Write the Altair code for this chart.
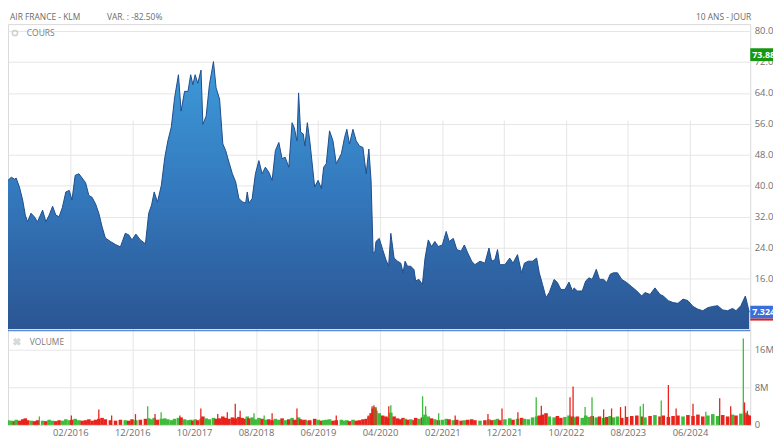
import altair as alt
import pandas as pd

# ---------------- data ----------------
dates = [
    "2015-04-01", "2015-04-17", "2015-05-03", "2015-05-11", "2015-05-27", "2015-06-12", "2015-06-25", "2015-07-06",
    "2015-07-23", "2015-08-08", "2015-08-24", "2015-09-18", "2015-10-04", "2015-10-20", "2015-11-06", "2015-11-22",
    "2015-12-08", "2015-12-24", "2016-01-10", "2016-01-27", "2016-02-09", "2016-02-25", "2016-03-14", "2016-03-30",
    "2016-04-16", "2016-05-02", "2016-05-18", "2016-06-04", "2016-06-20", "2016-07-06", "2016-07-22", "2016-08-16",
    "2016-09-10", "2016-10-04", "2016-10-28", "2016-11-14", "2016-11-30", "2016-12-19", "2017-01-10", "2017-02-04",
    "2017-02-20", "2017-03-06", "2017-03-19", "2017-04-04", "2017-04-23", "2017-05-10", "2017-05-25", "2017-06-11",
    "2017-06-27", "2017-07-16", "2017-07-29", "2017-08-15", "2017-09-01", "2017-09-14", "2017-09-25", "2017-10-06",
    "2017-10-19", "2017-11-04", "2017-11-13", "2017-11-29", "2017-12-15", "2018-01-04", "2018-01-17", "2018-02-03",
    "2018-02-19", "2018-03-05", "2018-03-21", "2018-04-07", "2018-04-23", "2018-05-09", "2018-05-25", "2018-06-11",
    "2018-06-19", "2018-06-27", "2018-07-13", "2018-07-29", "2018-08-15", "2018-08-31", "2018-09-16", "2018-10-03",
    "2018-10-19", "2018-11-04", "2018-11-21", "2018-12-07", "2018-12-22", "2019-01-09", "2019-01-25", "2019-02-05",
    "2019-02-18", "2019-02-26", "2019-03-08", "2019-03-21", "2019-03-29", "2019-04-10", "2019-04-22", "2019-05-16",
    "2019-06-02", "2019-06-18", "2019-06-29", "2019-07-12", "2019-07-28", "2019-08-14", "2019-08-30", "2019-09-24",
    "2019-10-10", "2019-10-21", "2019-11-03", "2019-11-20", "2019-12-06", "2019-12-22", "2020-01-08", "2020-01-24",
    "2020-02-06", "2020-02-17", "2020-02-27", "2020-03-07", "2020-03-12", "2020-03-28", "2020-04-14", "2020-04-30",
    "2020-05-13", "2020-05-24", "2020-06-09", "2020-06-26", "2020-07-12", "2020-07-23", "2020-08-02", "2020-08-14",
    "2020-08-30", "2020-09-15", "2020-09-23", "2020-10-09", "2020-10-26", "2020-11-08", "2020-11-24", "2020-12-10",
    "2020-12-26", "2021-01-12", "2021-02-01", "2021-02-20", "2021-03-06", "2021-03-27", "2021-04-13", "2021-05-04",
    "2021-05-20", "2021-06-06", "2021-06-25", "2021-07-11", "2021-08-05", "2021-08-29", "2021-09-18", "2021-10-01",
    "2021-10-17", "2021-10-30", "2021-11-10", "2021-12-05", "2021-12-29", "2022-01-14", "2022-02-05", "2022-02-25",
    "2022-03-11", "2022-03-30", "2022-04-20", "2022-05-10", "2022-05-23", "2022-06-08", "2022-06-25", "2022-07-11",
    "2022-08-04", "2022-08-20", "2022-09-06", "2022-09-26", "2022-10-16", "2022-11-02", "2022-11-10", "2022-11-26",
    "2022-12-20", "2023-01-06", "2023-01-22", "2023-02-07", "2023-02-27", "2023-03-15", "2023-04-04", "2023-04-20",
    "2023-05-06", "2023-05-22", "2023-06-11", "2023-07-02", "2023-07-26", "2023-08-20", "2023-09-14", "2023-10-08",
    "2023-10-24", "2023-11-18", "2023-12-12", "2024-01-06", "2024-01-22", "2024-02-16", "2024-03-10", "2024-04-03",
    "2024-04-28", "2024-05-22", "2024-06-16", "2024-07-10", "2024-08-03", "2024-08-28", "2024-09-21", "2024-10-15",
    "2024-11-09", "2024-12-03", "2024-12-27", "2025-01-13", "2025-02-06", "2025-02-28", "2025-03-10", "2025-03-19",
]
prices = [
    41.4, 42.2, 41.7, 42.0, 39.7, 36.3, 32.4, 30.7, 32.9, 32.0, 30.7, 33.7, 30.7, 32.4, 34.7, 32.4,
    32.0, 34.4, 38.4, 38.8, 36.3, 42.7, 43.1, 42.0, 40.8, 37.5, 37.0, 35.3, 32.9, 29.4, 26.5, 25.6,
    24.8, 24.2, 27.7, 27.3, 26.0, 27.5, 26.0, 25.0, 32.9, 35.0, 38.4, 35.8, 40.1, 47.3, 51.6, 55.2,
    62.7, 68.7, 59.3, 64.4, 64.4, 68.7, 66.1, 68.7, 66.5, 69.9, 55.9, 58.0, 66.1, 72.1, 65.3, 62.4,
    50.8, 49.1, 46.1, 43.1, 41.0, 36.7, 35.9, 35.5, 38.4, 35.5, 36.7, 43.1, 46.5, 43.1, 44.8, 43.5,
    41.4, 49.1, 51.2, 47.0, 47.4, 44.8, 56.3, 55.0, 51.6, 64.0, 53.9, 53.4, 50.3, 56.3, 51.6, 39.7,
    41.4, 39.3, 44.8, 45.7, 54.2, 51.6, 45.7, 48.3, 52.5, 54.6, 50.8, 54.6, 51.6, 50.3, 49.9, 43.1,
    49.5, 41.4, 22.6, 23.0, 25.6, 26.4, 23.5, 20.9, 19.2, 27.7, 21.3, 20.5, 20.0, 17.5, 20.5, 19.2,
    19.2, 18.3, 15.4, 15.8, 14.5, 21.3, 26.0, 24.3, 25.6, 24.3, 24.7, 28.2, 25.6, 26.4, 23.5, 23.1,
    24.7, 22.6, 20.5, 19.6, 20.5, 20.0, 23.9, 20.5, 20.9, 23.5, 19.6, 19.6, 21.3, 20.0, 22.2, 17.5,
    20.0, 20.5, 20.5, 21.3, 17.5, 14.5, 11.1, 12.4, 15.8, 15.0, 13.2, 13.2, 15.1, 12.8, 13.6, 12.8,
    12.8, 15.4, 16.2, 15.8, 18.4, 15.8, 15.8, 15.0, 17.1, 17.5, 17.5, 15.8, 15.0, 13.9, 12.8, 11.5,
    12.4, 11.9, 13.6, 11.9, 11.5, 10.3, 9.8, 9.6, 10.7, 10.3, 8.8, 8.1, 7.7, 8.5, 8.8, 9.0,
    7.9, 7.7, 8.3, 7.7, 9.0, 11.5, 9.4, 7.32,
]
# traded volume around each price point, in millions of shares
base_volume_m = [
    1.0, 0.9, 0.8, 1.1, 0.9, 1.2, 1.4, 1.0, 0.9, 0.8, 1.0, 0.9, 0.8, 1.1, 0.9, 0.8, 1.0, 0.9, 1.2, 1.0,
    1.1, 1.3, 1.0, 0.9, 1.0, 1.2, 0.9, 1.1, 1.3, 1.5, 1.2, 1.0, 0.9, 1.1, 1.0, 0.9, 1.2, 1.0, 1.1, 1.3,
    1.4, 1.2, 1.5, 1.1, 1.3, 1.4, 1.2, 1.0, 1.3, 1.5, 1.6, 1.2, 1.0, 1.1, 0.9, 1.2, 1.0, 1.3, 1.8, 1.4,
    1.2, 1.5, 1.3, 1.4, 1.8, 1.5, 1.3, 1.6, 1.4, 1.7, 1.5, 1.3, 1.8, 1.4, 1.6, 1.2, 1.5, 1.3, 1.1, 1.2,
    1.0, 1.3, 1.1, 1.4, 1.0, 1.2, 1.5, 1.1, 1.0, 1.6, 1.2, 1.0, 1.1, 0.9, 1.0, 1.3, 1.1, 0.9, 1.0, 1.1,
    1.2, 0.9, 1.0, 1.1, 0.9, 1.0, 0.8, 1.1, 0.9, 1.0, 1.2, 1.3, 1.8, 2.5,
    3.5, 3.8, 3.0, 2.5, 2.0, 1.8, 1.5, 2.6, 1.8, 1.4, 1.2, 1.5, 1.3, 1.1, 1.2, 1.0,
    1.5, 1.3, 1.6, 2.2, 1.8, 1.4, 1.2, 1.0, 1.1, 1.3, 1.2, 1.0, 1.1, 0.9, 1.0, 1.1, 1.2, 1.0, 0.9, 1.0,
    1.2, 1.0, 1.1, 1.3, 1.0, 1.2, 1.4, 1.1, 1.3, 1.5, 1.3, 1.2, 1.6, 1.8, 2.0, 2.2, 2.5, 1.8, 1.6, 1.9,
    1.5, 1.7, 2.0, 1.8, 1.6,
    1.8, 1.5, 2.0, 1.7, 1.9, 1.6, 1.8, 1.5, 1.7, 1.9, 1.6, 1.8, 1.5, 1.7, 1.9, 2.0, 1.8, 1.6, 1.9, 2.1,
    1.8, 2.0, 1.7, 1.9, 2.0,
    1.8, 2.1, 1.9, 2.2, 1.8, 2.0, 2.3, 1.9, 2.1, 1.8, 2.2, 2.0, 2.4, 2.6, 2.2, 2.0,
]
spike_dates = [
    "2015-09-02", "2016-02-06", "2016-06-20", "2016-08-22", "2016-12-17", "2017-02-15", "2017-03-23", "2017-04-22",
    "2017-07-23", "2017-11-03", "2018-01-25", "2018-03-13", "2018-04-21", "2018-05-15", "2018-07-22", "2018-09-10",
    "2018-10-19", "2019-02-18", "2019-08-30", "2020-02-03", "2020-02-22", "2020-03-02", "2020-03-12", "2020-05-14",
    "2020-05-24", "2020-10-27", "2020-11-11", "2021-01-14", "2021-04-05", "2021-09-13", "2021-11-21", "2022-02-07",
    "2022-05-08", "2022-06-02", "2022-10-21", "2022-11-05", "2023-01-03", "2023-02-06", "2023-04-04", "2023-05-13",
    "2023-06-26", "2023-07-20", "2023-10-01", "2023-10-16", "2024-01-12", "2024-02-16", "2024-03-25", "2024-06-16",
    "2024-08-18", "2024-10-25", "2024-12-18", "2025-02-18", "2025-02-24", "2025-03-10",
]
spike_volume_m = [
    1.8, 2.0, 3.3, 2.0, 2.3, 4.0, 2.3, 2.7, 2.0, 3.5, 2.3, 2.7, 4.5, 3.0, 2.5, 2.0,
    2.5, 3.5, 2.0, 2.0, 4.0, 4.2, 3.5, 4.0, 4.2, 6.1, 4.0, 2.5, 2.0, 2.3, 3.5, 2.7,
    5.9, 4.1, 5.9, 8.2, 3.8, 5.9, 3.3, 3.5, 3.8, 4.0, 4.0, 4.5, 5.2, 8.5, 3.5, 4.5,
    2.8, 5.7, 4.0, 18.4, 4.8, 3.0,
]
spike_dir = [
    "hausse", "baisse", "baisse", "baisse", "baisse", "hausse", "baisse", "hausse",
    "baisse", "baisse", "baisse", "baisse", "baisse", "baisse", "hausse", "hausse",
    "baisse", "baisse", "baisse", "baisse", "baisse", "baisse", "baisse", "baisse",
    "hausse", "hausse", "hausse", "hausse", "baisse", "baisse", "baisse", "baisse",
    "hausse", "baisse", "baisse", "baisse", "hausse", "hausse", "baisse", "baisse",
    "baisse", "baisse", "hausse", "hausse", "hausse", "baisse", "baisse", "baisse",
    "hausse", "baisse", "baisse", "hausse", "baisse", "baisse",
]

price_ticks = [16, 24, 32, 40, 48, 56, 64, 72, 80]
volume_ticks = [0, 8_000_000, 16_000_000]
x_tick_months = [(2016, 2), (2016, 12), (2017, 10), (2018, 8), (2019, 6), (2020, 4),
                 (2021, 2), (2021, 12), (2022, 10), (2023, 8), (2024, 6)]

title_name = "AIR FRANCE - KLM"
title_var = "VAR. : -82.50%"
title_period = "10 ANS - JOUR"
panel_price = "COURS"
panel_volume = "VOLUME"
marker_values = [73.88, 7.324]
marker_texts = ["73.88", "7.324"]
marker_fills = ["#17970f", "#3a6ed8"]

# ---------------- tables ----------------
price_df = pd.DataFrame({"date": dates, "cours": prices})
sens = ["hausse"] + ["hausse" if b >= a else "baisse" for a, b in zip(prices[:-1], prices[1:])]
rows = list(zip(dates, base_volume_m, sens))
vol_df = pd.DataFrame({"date": [r[0] for r in rows],
                       "volume": [r[1] * 1e6 for r in rows],
                       "sens": [r[2] for r in rows]})
spk = list(zip(spike_dates, spike_volume_m, spike_dir))
spike_df = pd.DataFrame({"date": [r[0] for r in spk],
                         "volume": [r[1] * 1e6 for r in spk],
                         "sens": [r[2] for r in spk]})
marker_df = pd.DataFrame({"v": marker_values, "txt": marker_texts, "fill": marker_fills})
last_df = marker_df.iloc[[1]]

FONT = "Open Sans"
GRID = "#e6e6e6"
LABEL = "#707070"

x_scale = alt.Scale(type="utc", domain=[alt.DateTime(year=2015, month=4, date=1, utc=True),
                                        alt.DateTime(year=2025, month=3, date=24, utc=True)])
x_axis = alt.Axis(values=[alt.DateTime(year=y, month=m, date=1, utc=True) for y, m in x_tick_months],
                  format="%m/%Y", grid=True, gridColor=GRID, ticks=False, domain=True,
                  domainColor="#d8d8d8", labelColor=LABEL, labelFontSize=9.5, labelFont=FONT,
                  labelPadding=3, title=None)
X = alt.X("date:T", scale=x_scale, axis=x_axis)

price_scale = alt.Scale(domain=[3, 80], range=[308, 7], zero=False, nice=False)
price_axis = alt.Axis(orient="right", values=price_ticks, format=".2f", grid=True, gridColor=GRID,
                      ticks=False, domain=False, labelPadding=4, labelColor=LABEL,
                      labelFontSize=9.5, labelFont=FONT, title=None)

vol_scale = alt.Scale(domain=[0, 19_400_000], range=[405, 313], nice=False, zero=True)
vol_axis = alt.Axis(orient="right", values=volume_ticks,
                    labelExpr="datum.value == 0 ? '0' : (datum.value / 1000000) + 'M'",
                    grid=True, gridColor=GRID, ticks=False, domain=False, labelPadding=4,
                    labelColor=LABEL, labelFontSize=9.5, labelFont=FONT, title=None)

gradient = alt.Gradient(
    gradient="linear",
    stops=[alt.GradientStop(color="#3d9ad9", offset=0),
           alt.GradientStop(color="#3378bc", offset=0.5),
           alt.GradientStop(color="#2b5592", offset=1)],
    x1=1, x2=1, y1=0, y2=1,
)

area = alt.Chart(price_df).mark_area(color=gradient).encode(
    x=X, y=alt.Y("cours:Q", scale=price_scale, axis=price_axis), y2=alt.datum(3)
)
line = alt.Chart(price_df).mark_line(color="#1e4d8c", strokeWidth=1.0).encode(
    x=X, y=alt.Y("cours:Q", scale=price_scale, axis=price_axis)
)
boxes = alt.Chart(marker_df).mark_tick(thickness=13, size=25, opacity=1).encode(
    y=alt.Y("v:Q", scale=price_scale, axis=price_axis),
    x=alt.value(762.5),
    color=alt.Color("fill:N", scale=None),
)
underline = alt.Chart(last_df).mark_tick(thickness=2, size=25, opacity=1, color="#e02020", yOffset=7.5).encode(
    y=alt.Y("v:Q", scale=price_scale, axis=price_axis), x=alt.value(762.5)
)
box_text = alt.Chart(marker_df).mark_text(align="left", baseline="middle", color="white",
                                          fontSize=9, font=FONT, fontWeight="bold").encode(
    y=alt.Y("v:Q", scale=price_scale, axis=price_axis), x=alt.value(752), text="txt:N"
)
price_layer = alt.layer(area, line, boxes, underline, box_text)

color_sens = alt.Color("sens:N", scale=alt.Scale(domain=["hausse", "baisse"],
                                                 range=["#3dbb3a", "#e8231b"]), legend=None)
vol_base = alt.Chart(vol_df).mark_rule(strokeWidth=3.6).encode(
    x=X, y=alt.Y("volume:Q", scale=vol_scale, axis=vol_axis), y2=alt.datum(0), color=color_sens
)
vol_spikes = alt.Chart(spike_df).mark_rule(strokeWidth=1.3).encode(
    x=X, y=alt.Y("volume:Q", scale=vol_scale, axis=vol_axis), y2=alt.datum(0), color=color_sens
)
volume_layer = alt.layer(vol_base, vol_spikes)


def label(text, x, y, align="left", size=8.5, color="#6a6a6a"):
    return alt.Chart(pd.DataFrame({"t": [text]})).mark_text(
        align=align, baseline="middle", fontSize=size, color=color, font=FONT
    ).encode(x=alt.value(x), y=alt.value(y), text="t:N")


icon_df = pd.DataFrame({"k": [0]})
cours_icon = alt.Chart(icon_df).mark_point(shape="circle", size=28, filled=False, color="#bdbdbd",
                                           strokeWidth=1.5).encode(x=alt.value(7), y=alt.value(9))
vol_icon = alt.Chart(icon_df).mark_point(shape="cross", angle=45, size=70, filled=True,
                                         color="#c9c9c9").encode(x=alt.value(9), y=alt.value(321))
separator = alt.Chart(icon_df).mark_rule(color="#5a8bd0", strokeWidth=1.5).encode(
    x=alt.value(0), x2=alt.value(750), y=alt.value(309.5)
)

chart = alt.layer(
    price_layer,
    volume_layer,
    separator,
    label(title_name, 2, -7),
    label(title_var, 100, -7),
    label(title_period, 751, -7, align="right"),
    cours_icon,
    label(panel_price, 19, 9, color="#7a7a7a"),
    vol_icon,
    label(panel_volume, 22, 321, color="#7a7a7a"),
).resolve_scale(y="independent").properties(
    width=750,
    height=405,
    autosize=alt.AutoSizeParams(type="none"),
    padding={"left": 0, "top": 14, "right": 23, "bottom": 13},
).configure_view(stroke="#dadada", strokeWidth=1)

chart.save("out.html", embed_options={"renderer": "svg", "actions": False})
